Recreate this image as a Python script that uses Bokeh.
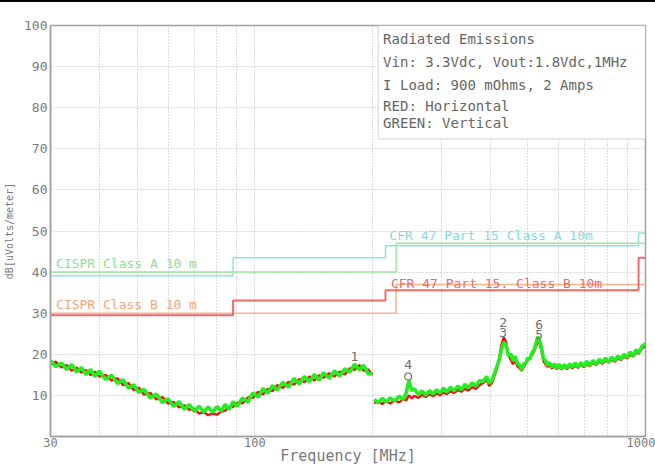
from bokeh.plotting import figure
from bokeh.models import FixedTicker, Range1d, BoxAnnotation, Label, ColumnDataSource
from bokeh.core.properties import value
from bokeh.embed import file_html
from bokeh.resources import INLINE

# ---------------- data ----------------
freq_low = [30, 31, 32, 33, 34, 35, 36, 37, 38, 39, 40, 41.5, 43, 44.5, 46, 47.5, 49, 50.5, 52,
            54, 56, 58, 60, 62, 64, 66, 68, 70, 72, 74, 76, 78, 80, 82, 84, 86, 88, 90,
            93, 96, 99, 102, 105, 108, 111, 114, 118, 122, 126, 130, 134, 138, 142, 146, 150,
            155, 160, 165, 170, 175, 180, 185, 190, 195, 200]
green_low = [18.4, 17.0, 17.9, 16.3, 17.5, 15.7, 16.8, 15.1, 16.3, 14.6,
             15.9, 13.9, 14.9, 12.9, 13.8, 11.8, 12.6, 10.7, 11.5, 9.4,
             10.3, 8.3, 9.2, 7.3, 8.5, 6.6, 7.8, 6.1, 7.4, 5.9,
             7.2, 5.9, 7.3, 6.1, 7.8, 6.6, 8.5, 7.3, 9.4, 8.4,
             10.6, 9.6, 11.7, 10.5, 12.4, 11.3, 13.2, 12.0, 14.1, 12.8,
             14.6, 13.3, 15.1, 13.7, 15.5, 14.2, 16.0, 14.7, 16.5, 15.6,
             17.6, 16.2, 17.3, 15.3, 15.2]
red_low = [17.6, 18.2, 16.8, 17.4, 16.0, 16.8, 15.5, 16.2, 14.9, 15.8,
           14.6, 15.0, 13.6, 14.2, 12.5, 13.0, 11.3, 11.9, 10.2, 10.6,
           9.0, 9.6, 8.0, 8.4, 7.1, 7.6, 6.5, 6.8, 5.6, 5.9,
           5.2, 5.6, 5.3, 6.0, 6.3, 7.2, 7.2, 8.2, 8.1, 9.5,
           9.4, 10.9, 10.2, 11.6, 11.0, 12.5, 11.8, 13.3, 12.6, 14.0,
           13.2, 14.6, 13.6, 14.9, 14.3, 15.4, 14.6, 15.8, 15.1, 16.6,
           16.2, 17.4, 16.0, 16.3, 15.0]

freq_high = [202, 207, 212, 217, 222, 228, 234, 240, 244, 248,
             252, 256, 262, 268, 274, 280, 286, 292, 298, 304,
             310, 317, 324, 331, 338, 345, 352, 360, 368, 376,
             384, 392, 398, 404, 410, 416, 422, 428, 434, 440,
             446, 452, 458, 464, 470, 476, 482, 488, 494, 500,
             506, 512, 518, 524, 530, 536, 542, 548, 554, 560,
             568, 576, 584, 592, 600, 610, 620, 630, 640, 650,
             660, 672, 684, 696, 708, 720, 734, 748, 762, 776,
             790, 805, 820, 835, 850, 866, 882, 898, 914, 930,
             946, 962, 978, 1000]
green_high = [9.0, 8.2, 9.3, 8.4, 9.4, 8.6, 9.8, 9.0, 10.6, 13.6,
              11.2, 11.6, 10.2, 11.1, 10.0, 11.2, 10.3, 11.4, 10.5, 11.8,
              10.8, 12.0, 11.1, 12.3, 11.4, 12.7, 11.8, 13.1, 12.2, 13.6,
              13.4, 14.6, 12.9, 13.6, 15.2, 16.9, 18.6, 21.2, 22.9, 22.2,
              19.6, 20.1, 18.4, 19.5, 17.8, 17.4, 16.2, 17.6, 17.9, 19.2,
              18.8, 20.4, 20.9, 22.6, 24.3, 23.4, 21.6, 18.9, 18.6, 17.3,
              18.0, 16.9, 17.7, 16.6, 17.6, 16.5, 17.5, 16.6, 17.7, 16.8,
              17.9, 16.9, 18.0, 17.1, 18.3, 17.3, 18.5, 17.6, 18.8, 17.9,
              19.1, 18.1, 19.3, 18.4, 19.6, 18.8, 20.0, 19.2, 20.6, 19.6,
              21.1, 20.4, 21.9, 22.6]
red_high = [8.1, 8.6, 7.9, 8.7, 8.0, 8.8, 8.3, 9.1, 8.8, 10.0,
            9.3, 9.9, 9.4, 10.1, 9.6, 10.3, 9.8, 10.5, 10.0, 10.7,
            10.3, 11.0, 10.6, 11.3, 10.9, 11.6, 11.2, 12.0, 11.6, 12.5,
            13.0, 13.8, 12.3, 12.9, 14.6, 16.2, 18.9, 22.4, 24.1, 22.9,
            19.8, 18.6, 17.6, 18.4, 17.1, 16.6, 16.0, 16.9, 17.8, 18.6,
            19.2, 19.8, 20.6, 21.8, 22.9, 22.6, 20.7, 18.4, 17.6, 17.0,
            17.2, 16.6, 17.1, 16.4, 17.0, 16.3, 17.0, 16.4, 17.1, 16.6,
            17.2, 16.7, 17.4, 16.9, 17.6, 17.1, 17.9, 17.4, 18.2, 17.7,
            18.5, 18.0, 18.7, 18.2, 19.0, 18.6, 19.4, 19.0, 19.9, 19.5,
            20.4, 20.2, 21.3, 22.1]

# limit lines (edges + level after each edge)
fcc_a_edges = [30, 88, 216, 960, 1000]
fcc_a_levels = [39.1, 43.5, 46.4, 49.5, 49.5]
cispr_a_edges = [30, 230, 1000]
cispr_a_levels = [40.0, 47.0, 47.0]
fcc_b_edges = [30, 88, 216, 960, 1000]
fcc_b_levels = [29.5, 33.1, 35.6, 43.5, 43.5]
cispr_b_edges = [30, 230, 1000]
cispr_b_levels = [30.0, 37.0, 37.0]

# markers
marker_labels = ["1", "4", "2", "3", "6", "5"]
marker_freqs = [180, 247, 432, 432, 534, 534]
marker_levels = [19.5, 17.6, 27.8, 25.4, 27.3, 24.9]
circle_freqs = [247]
circle_levels = [14.6]

x_tick_values = [30, 100, 1000]
x_grid_values = [40, 50, 60, 70, 80, 90, 100, 200, 300, 400, 500, 600, 700, 800, 900]
y_tick_values = [10, 20, 30, 40, 50, 60, 70, 80, 90, 100]
y_grid_values = [10, 20, 30, 40, 50, 60, 70, 80, 90]

info_lines = ["Radiated Emissions",
              "Vin: 3.3Vdc, Vout:1.8Vdc,1MHz",
              "I Load: 900 mOhms, 2 Amps",
              "RED: Horizontal",
              "GREEN: Vertical"]

# ---------------- figure ----------------
MONO = "DejaVu Sans Mono"
GRAY = "#7a7a7a"

p = figure(width=655, height=465, x_axis_type="log",
           x_range=Range1d(30, 1000), y_range=Range1d(0, 100),
           output_backend="svg", toolbar_location=None,
           min_border_left=50, min_border_right=10,
           min_border_top=23, min_border_bottom=30)
p.styles = {"border-top": "2px solid black"}
p.background_fill_color = "white"
p.outline_line_color = "#a0a0a0"
p.outline_line_width = 1.5

for ax in (p.xaxis[0], p.yaxis[0]):
    ax.axis_line_color = "#a0a0a0"
    ax.axis_line_width = 1.5
    ax.major_tick_line_color = None
    ax.minor_tick_line_color = None
    ax.major_tick_out = 0
    ax.major_tick_in = 0
    ax.minor_tick_out = 0
    ax.minor_tick_in = 0
    ax.major_label_text_font = MONO
    ax.major_label_text_color = GRAY
    ax.axis_label_text_font = MONO
    ax.axis_label_text_font_style = "normal"
    ax.axis_label_text_color = GRAY

p.xaxis.ticker = FixedTicker(ticks=x_tick_values)
p.xaxis.major_label_overrides = {30: "30", 100: "100", 1000: "1000"}
p.xaxis.major_label_text_font_size = "12px"
p.xaxis.major_label_standoff = 1
p.xaxis.axis_label = "Frequency [MHz]"
p.xaxis.axis_label_text_font_size = "15px"
p.xaxis.axis_label_standoff = -3

p.yaxis.ticker = FixedTicker(ticks=y_tick_values)
p.yaxis.major_label_text_font_size = "13px"
p.yaxis.major_label_standoff = 3
p.yaxis.axis_label = "dB[uVolts/meter]"
p.yaxis.axis_label_text_font_size = "10px"
p.yaxis.axis_label_standoff = 6

p.xgrid.ticker = FixedTicker(ticks=x_grid_values)
p.ygrid.ticker = FixedTicker(ticks=y_grid_values)
for g in (p.xgrid[0], p.ygrid[0]):
    g.grid_line_color = "#b8b8b8"
    g.grid_line_dash = "1 2"
    g.grid_line_width = 1

# limit lines
p.step(fcc_a_edges, fcc_a_levels, mode="after", line_color="#8ae4e4", line_width=1.5)
p.step(cispr_a_edges, cispr_a_levels, mode="after", line_color="#9aea9a", line_width=1.5)
p.step(cispr_b_edges, cispr_b_levels, mode="after", line_color="#f5b590", line_width=1.5)
p.step(fcc_b_edges, fcc_b_levels, mode="after", line_color="#f06a6a", line_width=2)

# traces: red (horizontal) below, green (vertical) above
p.line(freq_low, red_low, line_color="#ee1111", line_width=2.4)
p.line(freq_high, red_high, line_color="#ee1111", line_width=2.4)
p.line(freq_low, green_low, line_color="#22ee22", line_width=3.6)
p.line(freq_high, green_high, line_color="#22ee22", line_width=3.6)

# markers
msrc = ColumnDataSource(dict(x=marker_freqs, y=marker_levels, t=marker_labels))
p.text(x="x", y="y", text="t", source=msrc, text_font=value(MONO),
       text_font_size="13px", text_color="#707070", text_align="center",
       text_baseline="middle")
p.scatter(circle_freqs, circle_levels, marker="circle", size=7, fill_color=None,
          line_color="#707070", line_width=1.2)

# limit labels
limit_labels = [("CISPR Class A 10 m", 31, 42.0, "#8fe08f"),
                ("CISPR Class B 10 m", 31, 32.2, "#f4a57a"),
                ("CFR 47 Part 15  Class A 10m", 221, 48.8, "#7fdcdc"),
                ("CFR 47 Part 15. Class B 10m", 223, 37.3, "#ee6b6b")]
for txt, lx, ly, col in limit_labels:
    p.add_layout(Label(x=lx, y=ly, text=txt, text_font=MONO, text_font_size="13px",
                       text_color=col, text_baseline="middle"))

# info box
p.add_layout(BoxAnnotation(left=207, right=1000, bottom=72.4, top=100,
                           fill_color="white", fill_alpha=1.0,
                           line_color="#a0a0a0", line_width=1.5))
for txt, ly in zip(info_lines, [96.8, 91.0, 85.6, 80.5, 76.3]):
    p.add_layout(Label(x=213, y=ly, text=txt, text_font=MONO, text_font_size="14px",
                       text_color="#666666", text_baseline="middle"))

open("out.html", "w").write(file_html(p, INLINE))
